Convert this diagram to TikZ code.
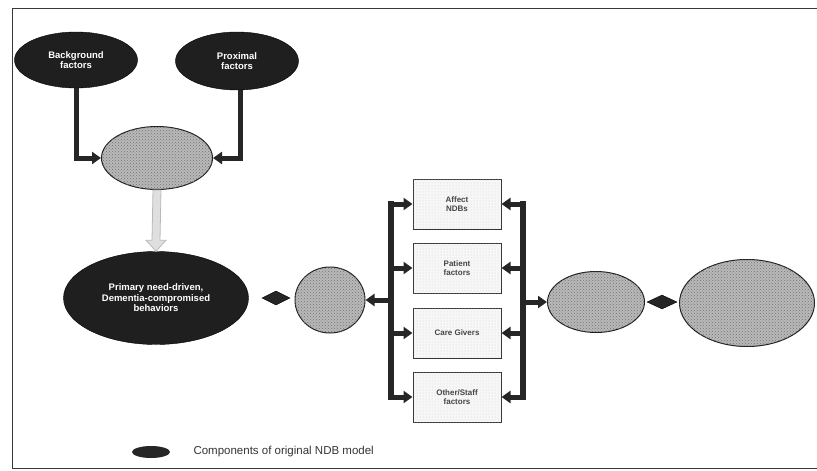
\documentclass[tikz,border=0pt]{standalone}
\usepackage{fontspec}
\setmainfont{Liberation Sans}
\usetikzlibrary{shapes.geometric,arrows.meta,calc,patterns}
\begin{document}
\begin{tikzpicture}[x=1pt,y=-1pt,
  blackell/.style={ellipse, fill=black!88, draw=black, inner sep=0pt, text=white,
    font=\fontsize{9.5}{10.5}\selectfont\bfseries, align=center},
  greyell/.style={ellipse, fill=gray!55, draw=gray!25!black, line width=1pt, inner sep=0pt,
    postaction={pattern=crosshatch dots, pattern color=black!55}},
  boxnode/.style={rectangle, fill=gray!6, draw=gray!40!black, line width=1pt,
    minimum width=88pt, minimum height=50pt, inner sep=0pt, align=center,
    font=\fontsize{8}{9}\selectfont\bfseries, text=gray!55!black,
    postaction={pattern=dots, pattern color=gray!35}},
  dia/.style={diamond, fill=black!85, draw=black, inner sep=0pt, minimum width=28pt, minimum height=14pt},
  fatarrow/.style={line width=5pt, black!85, -{Triangle[length=9pt,width=12pt]}},
  bar/.style={line width=6pt, black!85, line cap=rect}
]
\useasboundingbox (0,0) rectangle (817,471);
% frame
\draw[gray!45!black, line width=0.8pt] (817,8) -- (12,8) -- (12,468) -- (817,468);

% nodes
\node[blackell, minimum width=123pt, minimum height=56pt] (bg) at (76,60) {Background\\factors};
\node[blackell, minimum width=123pt, minimum height=58pt] (px) at (237,61) {Proximal\\factors};
\node[greyell, minimum width=111pt, minimum height=63pt] (need) at (157,158) {};
\node[blackell, minimum width=185pt, minimum height=93pt] (prim) at (156,298) {Primary need-driven,\\Dementia-compromised\\behaviors};
\node[dia] (d1) at (276,298) {};
\node[greyell, minimum width=70pt, minimum height=66pt] (circ) at (330,300) {};
\node[boxnode] (b1) at (457,204) {Affect\\NDBs};
\node[boxnode] (b2) at (457,268) {Patient\\factors};
\node[boxnode] (b3) at (457,333) {Care Givers};
\node[boxnode] (b4) at (457,397) {Other/Staff\\factors};
\node[greyell, minimum width=97pt, minimum height=61pt] (r1) at (596,302) {};
\node[dia, minimum width=30pt] (d2) at (662,302) {};
\node[greyell, minimum width=135pt, minimum height=87pt] (r2) at (747,303) {};

% legend
\node[ellipse, fill=black!85, inner sep=0pt, minimum width=38pt, minimum height=12pt] (leg) at (151,452) {};
\node[anchor=west, font=\fontsize{11.5}{13}\selectfont, text=black!80] (legt) at (190,452) {Components of original NDB model};

% arrows from factors to need
\draw[fatarrow] (bg.south) |- (need.west);
\draw[fatarrow] (px.south -| 240,0) |- (need.east);

% hollow down arrow need -> primary
\draw[fill=gray!25, draw=gray!55, line width=0.8pt]
  ($(need.south)+(-4,0)$) -- ($(prim.north)+(-4,-11)$) -- ($(prim.north)+(-10,-11)$)
  -- (prim.north) -- ($(prim.north)+(10,-11)$) -- ($(prim.north)+(4,-11)$)
  -- ($(need.south)+(4,0)$) -- cycle;

% bars
\coordinate (lb) at (391,0);
\coordinate (rb) at (523,0);
\draw[bar] (lb |- b1) -- (lb |- b4);
\draw[bar] (rb |- b1) -- (rb |- b4);
\foreach \b in {b1,b2,b3,b4}{
  \draw[fatarrow] (lb |- \b) -- (\b.west);
  \draw[fatarrow] (rb |- \b) -- (\b.east);
}
\draw[fatarrow] (lb |- circ) -- (circ.east);
\draw[fatarrow] (rb |- r1) -- (r1.west);
\end{tikzpicture}
\end{document}
